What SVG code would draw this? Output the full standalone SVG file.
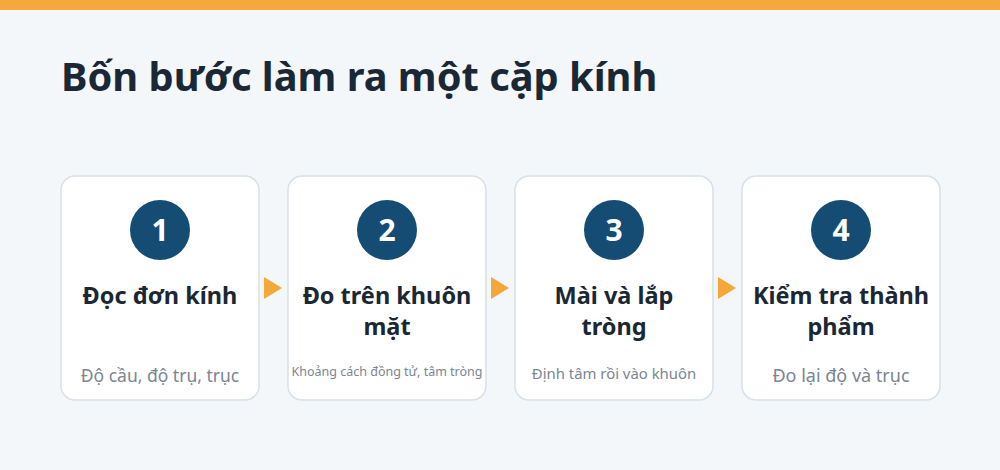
<svg xmlns="http://www.w3.org/2000/svg" width="1000" height="470" viewBox="0 0 1000 470">
<style>
.card{fill:#ffffff;stroke:#d8e0e8;stroke-width:1.5}
.num{fill:#154c74}
.numt{font-family:"Noto Sans","Open Sans",sans-serif;font-weight:700;font-size:30px;fill:#ffffff;text-anchor:middle}
.ttl{font-family:"Noto Sans","Open Sans",sans-serif;font-weight:700;font-size:23.5px;fill:#1a2735;text-anchor:middle}
.sub{font-family:"Noto Sans","Open Sans",sans-serif;font-size:17.5px;fill:#7b8592;text-anchor:middle}
.arr{fill:#f5a83a}
</style>
<rect width="1000" height="470" fill="#f3f7fa"/>
<rect width="1000" height="10" fill="#f5a93c"/>
<text x="61" y="91" font-family="'Noto Sans','Open Sans',sans-serif" font-weight="700" font-size="39.8" fill="#1a2735">Bốn bước làm ra một cặp kính</text>
<g id="connectors">
<polygon class="arr" points="264,277 282,288 264,299"/>
<polygon class="arr" points="491,277 509,288 491,299"/>
<polygon class="arr" points="718,277 736,288 718,299"/>
</g>
<g id="step1">
<rect class="card" x="61" y="176" width="198" height="224" rx="14"/>
<circle class="num" cx="160" cy="230" r="30"/>
<text class="numt" x="160" y="241">1</text>
<text class="ttl" x="160" y="304">Đọc đơn kính</text>
<text class="sub" x="160" y="382">Độ cầu, độ trụ, trục</text>
</g>
<g id="step2">
<rect class="card" x="288" y="176" width="198" height="224" rx="14"/>
<circle class="num" cx="387" cy="230" r="30"/>
<text class="numt" x="387" y="241">2</text>
<text class="ttl" x="387" y="304">Đo trên khuôn</text>
<text class="ttl" x="387" y="335">mặt</text>
<text class="sub" x="387" y="376" style="font-size:12.5px">Khoảng cách đồng tử, tâm tròng</text>
</g>
<g id="step3">
<rect class="card" x="515" y="176" width="198" height="224" rx="14"/>
<circle class="num" cx="614" cy="230" r="30"/>
<text class="numt" x="614" y="241">3</text>
<text class="ttl" x="614" y="304">Mài và lắp</text>
<text class="ttl" x="614" y="335">tròng</text>
<text class="sub" x="614" y="379" style="font-size:14.9px">Định tâm rồi vào khuôn</text>
</g>
<g id="step4">
<rect class="card" x="742" y="176" width="198" height="224" rx="14"/>
<circle class="num" cx="841" cy="230" r="30"/>
<text class="numt" x="841" y="241">4</text>
<text class="ttl" x="841" y="304">Kiểm tra thành</text>
<text class="ttl" x="841" y="335">phẩm</text>
<text class="sub" x="841" y="382" style="font-size:18px">Đo lại độ và trục</text>
</g>
</svg>
